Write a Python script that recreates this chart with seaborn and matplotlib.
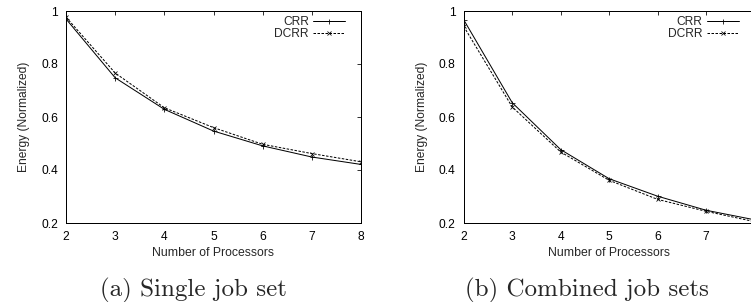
import matplotlib
matplotlib.use("Agg")
import matplotlib.pyplot as plt
import seaborn as sns
import pandas as pd

# ---- data ----
processors = [2, 3, 4, 5, 6, 7, 8]
single_crr = [0.970, 0.748, 0.629, 0.547, 0.491, 0.449, 0.421]
single_dcrr = [0.977, 0.766, 0.635, 0.560, 0.497, 0.462, 0.431]
combined_crr = [0.967, 0.654, 0.477, 0.367, 0.301, 0.248, 0.212]
combined_dcrr = [0.942, 0.638, 0.468, 0.361, 0.289, 0.244, 0.205]
y_ticks = [0.2, 0.4, 0.6, 0.8, 1.0]
y_tick_labels = ["0.2", "0.4", "0.6", "0.8", "1"]
captions = ["(a) Single job set", "(b) Combined job sets"]
series_names = ["CRR", "DCRR"]

sns.set_style("white")
plt.rcParams["font.family"] = ["Liberation Sans", "DejaVu Sans"]

W, H = 751, 302
fig = plt.figure(figsize=(W / 72, H / 72), dpi=72)

# axes rectangles in pixel terms -> figure fractions
ax_specs = [(66, 295), (463.7, 291)]
top_px, bot_px = 11, 223

panels = [(single_crr, single_dcrr), (combined_crr, combined_dcrr)]
caption_x = [193, 587]

for i, ((left_px, width_px), (crr, dcrr), cap, cx) in enumerate(
        zip(ax_specs, panels, captions, caption_x)):
    ax = fig.add_axes([left_px / W, 1 - bot_px / H, width_px / W, (bot_px - top_px) / H])
    df_c = pd.DataFrame({"p": processors, "e": crr})
    df_d = pd.DataFrame({"p": processors, "e": dcrr})
    sns.lineplot(data=df_c, x="p", y="e", ax=ax, color="black", linewidth=1.0,
                 marker="+", markersize=5, markeredgewidth=0.8,
                 markeredgecolor="black", label=series_names[0])
    sns.lineplot(data=df_d, x="p", y="e", ax=ax, color="black", linewidth=1.0,
                 linestyle=(0, (2.5, 1.5)), marker="x", markersize=3.5,
                 markeredgewidth=0.8, markeredgecolor="black",
                 label=series_names[1])
    ax.set_xlim(2, 8)
    ax.set_ylim(0.2, 1.0)
    ax.set_xticks(processors)
    ax.set_yticks(y_ticks)
    ax.set_yticklabels(y_tick_labels)
    ax.tick_params(direction="in", length=4, width=0.8, top=True, right=True,
                   labelsize=12, colors="black", pad=8)
    ax.tick_params(axis="x", pad=8)
    if i == 1:
        # the last tick label falls outside the cropped picture
        ax.get_xticklabels()[-1].set_visible(False)
    for s in ax.spines.values():
        s.set_color("black")
        s.set_linewidth(1.0)
        s.set_visible(True)
    ax.set_xlabel("Number of Processors", fontsize=12.2, labelpad=4)
    ax.set_ylabel("Energy (Normalized)", fontsize=12, labelpad=11)
    ax.legend(loc="upper right", bbox_to_anchor=(0.947, 0.975), frameon=False,
              markerfirst=False, fontsize=12, handlelength=2.7, handletextpad=0.35,
              labelspacing=0.0, borderaxespad=0.0, borderpad=0.0)
    fig.text(cx / W, 1 - 290 / H, cap, ha="center", va="center",
             fontsize=25, family="cmr10")

fig.savefig("out.png", dpi=72)
